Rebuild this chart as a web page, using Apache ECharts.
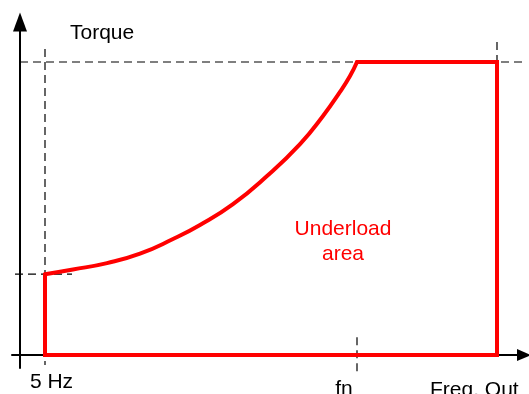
<!DOCTYPE html>
<html>
<head>
<meta charset="utf-8">
<script src="https://cdn.jsdelivr.net/npm/echarts@6/dist/echarts.min.js"></script>
<style>
  html, body { margin: 0; padding: 0; background: #fff; }
  #chart { width: 529px; height: 394px; }
</style>
</head>
<body>
<div id="chart"></div>
<script>
// Torque limit curve (frequency in axis units, torque in % of rated)
const curveFreq = [5, 10.6, 17.4, 24, 30.6, 36, 42.6, 49.4, 56, 60.6, 64, 66, 67.4];
const curveTorque = [27.6, 29.2, 31.4, 34.6, 39.6, 44.4, 51.5, 61.1, 72.0, 81.6, 89.8, 95.2, 100];

// Key frequencies and torques
const minFreq = 5;        // 5 Hz
const nominalFreq = 67.4; // fn
const maxFreq = 95.4;     // end of the range
const ratedTorque = 100;
const lowTorque = 27.6;

const tickValues = [minFreq, nominalFreq];
const tickNames = ['5 Hz', 'fn'];
const areaLabel = ['Underload', 'area'];
const areaLabelPos = [64.6, 38.8];

const curveData = curveFreq.map((f, i) => [f, curveTorque[i]]);
// Remaining straight edges of the underload region
const edgeData = [
  [nominalFreq, ratedTorque],
  [maxFreq, ratedTorque],
  [maxFreq, 0],
  [minFreq, 0],
  [minFreq, lowTorque]
];

const dashStyle = { color: '#000', width: 1.2, type: [8, 5] };
function dashed(points) {
  return {
    type: 'line', data: points, symbol: 'none', clip: false, silent: true,
    lineStyle: dashStyle, z: 2
  };
}

const FONT = 'Liberation Sans, Arial, sans-serif';

const chart = echarts.init(document.getElementById('chart'), null, { renderer: 'canvas' });
chart.setOption({
  animation: false,
  backgroundColor: '#fff',
  grid: { left: 12, right: 5, top: 22, bottom: 26, outerBoundsMode: 'none', containLabel: false },
  xAxis: {
    type: 'value', min: -1.6, max: 100.8,
    splitLine: { show: false },
    axisTick: { show: false },
    axisLine: {
      onZero: true,
      lineStyle: { color: '#000', width: 2 },
      symbol: ['none', 'triangle'],
      symbolSize: [12, 14]
    },
    axisLabel: {
      customValues: tickValues,
      margin: 4,
      color: '#000',
      fontFamily: FONT,
      fontSize: 21,
      formatter: v => {
        const i = tickValues.indexOf(v);
        return i === 0 ? '{l|' + tickNames[0] + '}' : '{r|' + tickNames[1] + '}';
      },
      rich: {
        l: { fontFamily: FONT, fontSize: 21, color: '#000', padding: [0, 0, 0, 13] },
        r: { fontFamily: FONT, fontSize: 21, color: '#000', padding: [7, 26, 0, 0] }
      }
    },
    name: 'Freq. Out',
    nameLocation: 'end',
    nameGap: -94,
    nameTextStyle: {
      fontFamily: FONT, fontSize: 21, color: '#000',
      align: 'left', verticalAlign: 'top', padding: [25, 0, 0, 0]
    }
  },
  yAxis: {
    type: 'value', min: -4.4, max: 113.65,
    splitLine: { show: false },
    axisTick: { show: false },
    axisLabel: { show: false },
    axisLine: {
      onZero: true,
      lineStyle: { color: '#000', width: 2 },
      symbol: ['none', 'triangle'],
      symbolSize: [14, 19]
    },
    name: 'Torque',
    nameLocation: 'end',
    nameGap: -11,
    nameTextStyle: {
      fontFamily: FONT, fontSize: 21, color: '#000',
      align: 'left', verticalAlign: 'middle', padding: [0, 0, 0, 50]
    }
  },
  series: [
    dashed([[0, ratedTorque], [100.8, ratedTorque]]),
    dashed([[minFreq, 104.4], [minFreq, -3.4]]),
    dashed([[-1, lowTorque], [10.4, lowTorque]]),
    dashed([[maxFreq, 106.8], [maxFreq, 0]]),
    dashed([[nominalFreq, 6.1], [nominalFreq, -5.5]]),
    {
      type: 'line', data: curveData, smooth: 0.5, symbol: 'none', clip: false,
      lineStyle: { color: '#ff0000', width: 4, cap: 'round', join: 'round' }, z: 5
    },
    {
      type: 'line', data: edgeData, symbol: 'none', clip: false,
      lineStyle: { color: '#ff0000', width: 4, cap: 'round', join: 'miter' }, z: 5
    },
    {
      type: 'scatter', data: [areaLabelPos], symbolSize: 0, silent: true,
      itemStyle: { opacity: 1, color: '#ff0000' },
      label: {
        show: true, position: 'inside',
        formatter: areaLabel.join('\n'),
        color: '#ff0000', fontFamily: FONT, fontSize: 21, lineHeight: 25,
        textBorderWidth: 0, opacity: 1
      }
    }
  ]
});
</script>
</body>
</html>
